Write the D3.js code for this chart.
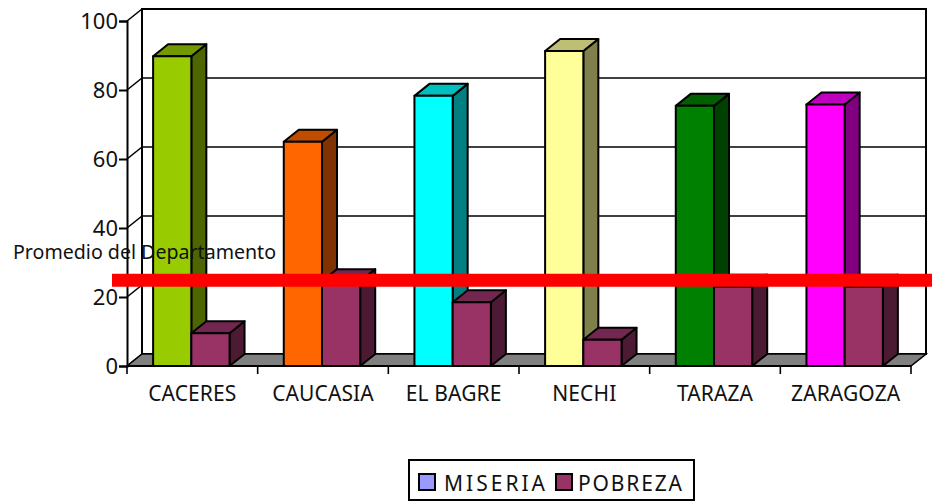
<!DOCTYPE html>
<html>
<head>
<meta charset="utf-8">
<script src="https://cdn.jsdelivr.net/npm/d3@7/dist/d3.min.js"></script>
<style>
  html, body { margin: 0; padding: 0; background: #fff; }
  svg { display: block; }
  text { font-family: "Noto Sans", "DejaVu Sans", sans-serif; fill: #111; }
</style>
</head>
<body>
<svg width="932" height="504"></svg>
<script>
var categories = ["CACERES", "CAUCASIA", "EL BAGRE", "NECHI", "TARAZA", "ZARAGOZA"];
var miseria = [89.8, 65, 78.3, 91.3, 75.4, 75.8];
var pobreza = [9.5, 24.6, 18.5, 7.6, 23, 23];
var miseriaColors = ["#99cc00", "#ff6600", "#00ffff", "#ffff99", "#008000", "#ff00ff"];
var pobrezaColor = "#993366";
var legendNames = ["MISERIA", "POBREZA"];
var legendColors = ["#9999ff", "#993366"];
var yTicks = [0, 20, 40, 60, 80, 100];
var promedio = 25;
var promedioLabel = "Promedio del Departamento";

var svg = d3.select("svg");

// plot box of the front plane, the back wall sits dx,dy away
var plotLeft = 127, plotRight = 911, plotTop = 21, plotBottom = 366;
var dx = 15, dy = -12;

var x = d3.scaleBand().domain(categories).range([plotLeft - 1, plotRight - 1]).paddingInner(0.415).paddingOuter(0.2075);
var x1 = d3.scaleBand().domain([0, 1]).range([0, x.bandwidth()]);
var y = d3.scaleLinear().domain([0, 100]).range([plotBottom, plotTop]);

function pts(a) { return a.map(function(p) { return p.join(","); }).join(" "); }

// back wall and side wall
svg.append("rect")
    .attr("x", plotLeft + dx).attr("y", plotTop + dy)
    .attr("width", plotRight - plotLeft).attr("height", plotBottom - plotTop)
    .attr("fill", "#fff").attr("stroke", "#000").attr("stroke-width", 2);

// grid on the back wall plus the little diagonal on the side wall
var grid = svg.append("g").attr("stroke", "#000").attr("stroke-width", 1.6);
grid.selectAll(".g1").data(yTicks.slice(1, 5)).enter().append("line")
    .attr("x1", plotLeft + dx).attr("x2", plotRight + dx)
    .attr("y1", function(d) { return y(d) + dy; })
    .attr("y2", function(d) { return y(d) + dy; });
grid.selectAll(".g2").data(yTicks).enter().append("line")
    .attr("x1", plotLeft).attr("x2", plotLeft + dx)
    .attr("y1", function(d) { return y(d); })
    .attr("y2", function(d) { return y(d) + dy; });

// floor
svg.append("polygon")
    .attr("points", pts([[plotLeft, plotBottom], [plotLeft + dx, plotBottom + dy], [plotRight + dx, plotBottom + dy], [plotRight, plotBottom]]))
    .attr("fill", "#808080").attr("stroke", "#000").attr("stroke-width", 1.6);

// one 3d bar: side, top, front
function bar3d(g, bx, bw, val, front, side, topc) {
  var ty = y(val);
  g.append("polygon")
    .attr("points", pts([[bx + bw, ty], [bx + bw + dx, ty + dy], [bx + bw + dx, plotBottom + dy], [bx + bw, plotBottom]]))
    .attr("fill", side);
  g.append("polygon")
    .attr("points", pts([[bx, ty], [bx + dx, ty + dy], [bx + bw + dx, ty + dy], [bx + bw, ty]]))
    .attr("fill", topc);
  g.append("rect")
    .attr("x", bx).attr("y", ty).attr("width", bw).attr("height", plotBottom - ty)
    .attr("fill", front);
}

var bars = svg.append("g").attr("stroke", "#000").attr("stroke-width", 2).attr("stroke-linejoin", "round");
categories.forEach(function(c, i) {
  var base = d3.rgb(miseriaColors[i]);
  bar3d(bars, x(c) + x1(0), x1.bandwidth(), miseria[i], base, d3.rgb(base.r * 0.5, base.g * 0.5, base.b * 0.5), d3.rgb(base.r * 0.75, base.g * 0.75, base.b * 0.75));
  bar3d(bars, x(c) + x1(1), x1.bandwidth(), pobreza[i], pobrezaColor, "#4d1a33", "#732650");
});

// axes on the front plane
var yAxis = svg.append("g").attr("transform", "translate(" + plotLeft + ",0)")
    .call(d3.axisLeft(y).tickValues(yTicks).tickSize(8).tickPadding(1));
yAxis.selectAll("line, path").attr("stroke", "#000").attr("stroke-width", 2);
yAxis.selectAll("text").attr("font-size", 22).attr("fill", "#111").style("font-family", '"Noto Sans", sans-serif');

var tickScale = d3.scaleLinear().domain([0, categories.length]).range([plotLeft, plotRight]);
var xAxis = svg.append("g").attr("transform", "translate(0," + plotBottom + ")");
xAxis.append("line").attr("x1", plotLeft).attr("x2", plotRight).attr("stroke", "#000").attr("stroke-width", 2);
xAxis.selectAll(".t").data(d3.range(categories.length + 1)).enter().append("line")
    .attr("x1", tickScale).attr("x2", tickScale).attr("y2", 8)
    .attr("stroke", "#000").attr("stroke-width", 1.6);
xAxis.selectAll("text").data(categories).enter().append("text")
    .attr("x", function(d, i) { return (tickScale(i) + tickScale(i + 1)) / 2; })
    .attr("y", 35).attr("text-anchor", "middle").attr("font-size", 21).attr("letter-spacing", 0.1)
    .text(function(d) { return d; });

// average line and its label
svg.append("line")
    .attr("x1", 112).attr("x2", 932)
    .attr("y1", y(promedio) + 0.5).attr("y2", y(promedio) + 0.5)
    .attr("stroke", "#ff0000").attr("stroke-width", 13);
svg.append("text").attr("x", 13).attr("y", 259).attr("font-size", 19.6).text(promedioLabel);

// legend
var legend = svg.append("g");
legend.append("rect").attr("x", 409).attr("y", 460).attr("width", 285).attr("height", 40)
    .attr("fill", "#fff").attr("stroke", "#000").attr("stroke-width", 2);
var legendX = d3.scalePoint().domain(legendNames).range([419, 556]);
var legendTextX = d3.scalePoint().domain(legendNames).range([444, 578]);
legendNames.forEach(function(n, i) {
  legend.append("rect").attr("x", legendX(n)).attr("y", 474).attr("width", 16).attr("height", 16)
      .attr("fill", legendColors[i]).attr("stroke", "#000").attr("stroke-width", 2);
  legend.append("text").attr("x", legendTextX(n)).attr("y", 491)
      .attr("font-size", 21).attr("textLength", i === 0 ? 101 : 104).attr("lengthAdjust", "spacing").text(n);
});
</script>
</body>
</html>
